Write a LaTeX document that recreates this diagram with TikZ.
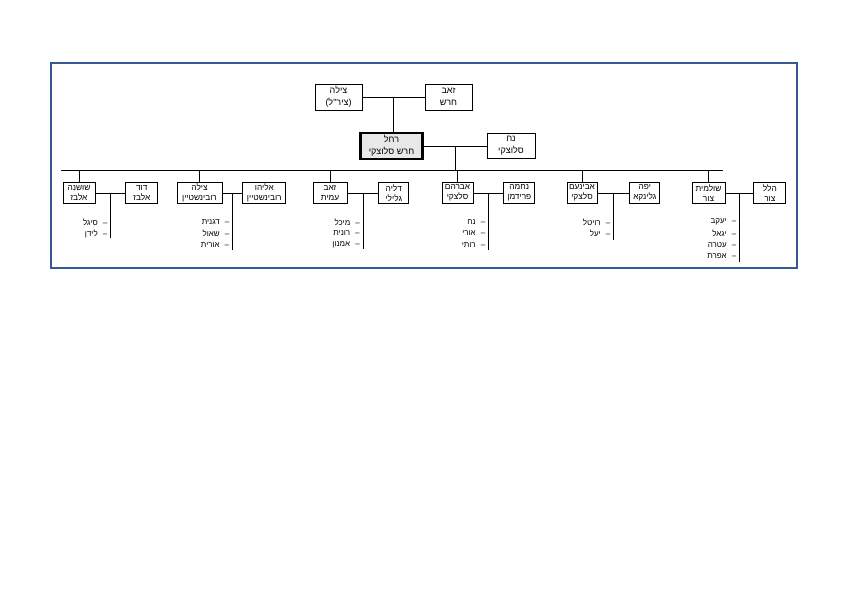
\documentclass[tikz,border=0pt]{standalone}
\usepackage{fontspec}
\setmainfont{Liberation Sans}
\newfontfamily\hebfont[Script=Hebrew]{Liberation Sans}
\TeXXeTstate=1
\usepackage{tikz}
\usetikzlibrary{positioning}
\usetikzlibrary{calc}
\definecolor{frameblue}{RGB}{56,87,150}
\tikzstyle{person} = [rectangle, draw=black, fill=white, line width=0.8pt, minimum height=20.5pt, inner sep=0pt, text centered, align=center, font=\hebfont\fontsize{8.3}{9.8}\selectfont]
\tikzstyle{parent} = [person, minimum height=26pt, font=\hebfont\fontsize{9}{12}\selectfont]
\tikzstyle{focus} = [parent, line width=2.4pt, fill=gray!18]
\tikzstyle{offspring} = [anchor=east, inner sep=0pt, font=\hebfont\fontsize{8}{9}\selectfont]
\tikzstyle{link} = [line width=0.8pt]
\newcommand{\rl}[1]{\beginR #1\endR}
\newcommand{\kid}[1]{\beginR –\hspace{5pt}#1\endR}

\begin{document}
\begin{tikzpicture}[x=1pt, y=-1pt, node distance=110pt]
        \useasboundingbox (0,0) rectangle (849,600);
        \draw [frameblue, line width=2.6pt] (51,63) rectangle (797,268);

        % grandparents and parents
        \node (tzila) [parent, minimum width=47pt] at (338.5,97) {\rl{צילה}\\\rl{(ציר"ל)}};
        \node (zeev) [parent, minimum width=47pt, right of=tzila] {\rl{זאב}\\\rl{חרש}};
        \node (rachel) [focus, minimum width=62pt, minimum height=26pt] at (391.5,146) {\rl{רחל}\\\rl{חרש סלוצקי}};
        \node (noach) [parent, minimum width=48pt, minimum height=25pt] at (511,146) {\rl{נח}\\\rl{סלוצקי}};

        % children and their spouses
        \node (shoshana) [person, minimum width=32pt] at (79,193) {\rl{שושנה}\\\rl{אלבז}};
        \node (david) [person, minimum width=32pt, right=30pt of shoshana] {\rl{דוד}\\\rl{אלבז}};
        \node (tzilaR) [person, minimum width=45pt] at (199.5,193) {\rl{צילה}\\\rl{רובינשטיין}};
        \node (eliyahu) [person, minimum width=43pt, right=20pt of tzilaR] {\rl{אליהו}\\\rl{רובינשטיין}};
        \node (zeevA) [person, minimum width=34pt] at (330,193) {\rl{זאב}\\\rl{עמית}};
        \node (dalia) [person, minimum width=30pt, right=31pt of zeevA] {\rl{דליה}\\\rl{גלילי}};
        \node (avraham) [person, minimum width=31pt] at (457.5,193) {\rl{אברהם}\\\rl{סלצקי}};
        \node (nechama) [person, minimum width=31pt, right=30pt of avraham] {\rl{נחמה}\\\rl{פרידמן}};
        \node (avinoam) [person, minimum width=30pt] at (582,193) {\rl{אבינעם}\\\rl{סלצקי}};
        \node (yafa) [person, minimum width=30pt, right=32pt of avinoam] {\rl{יפה}\\\rl{גלינקא}};
        \node (shulamit) [person, minimum width=33pt] at (708.5,193) {\rl{שולמית}\\\rl{צור}};
        \node (hillel) [person, minimum width=32pt, right=28pt of shulamit] {\rl{הלל}\\\rl{צור}};

        % couple lines
        \coordinate (topmid) at ($(tzila.east)!0.5!(zeev.west)$);
        \coordinate (parmid) at ($(rachel.east)!0.5!(noach.west)$);
        \coordinate (busL) at (61,170);
        \coordinate (busR) at (723,170);
        \draw [link] (tzila) -- (zeev);
        \draw [link] (topmid) -- (topmid |- rachel.north);
        \draw [link] (rachel) -- (noach);
        \draw [link] (parmid) -- (parmid |- busL);
        \draw [link] (busL) -- (busR);
        \draw [link] (shoshana.north |- busL) -- (shoshana.north);
        \draw [link] (tzilaR.north |- busL) -- (tzilaR.north);
        \draw [link] (zeevA.north |- busL) -- (zeevA.north);
        \draw [link] (avraham.north |- busL) -- (avraham.north);
        \draw [link] (avinoam.north |- busL) -- (avinoam.north);
        \draw [link] (shulamit.north |- busL) -- (shulamit.north);

        \draw [link] (shoshana) -- (david);
        \draw [link] (tzilaR) -- (eliyahu);
        \draw [link] (zeevA) -- (dalia);
        \draw [link] (avraham) -- (nechama);
        \draw [link] (avinoam) -- (yafa);
        \draw [link] (shulamit) -- (hillel);

        \coordinate (m1) at ($(shoshana.east)!0.5!(david.west)$);
        \coordinate (m2) at ($(tzilaR.east)!0.5!(eliyahu.west)$);
        \coordinate (m3) at ($(zeevA.east)!0.5!(dalia.west)$);
        \coordinate (m4) at ($(avraham.east)!0.5!(nechama.west)$);
        \coordinate (m5) at ($(avinoam.east)!0.5!(yafa.west)$);
        \coordinate (m6) at ($(shulamit.east)!0.5!(hillel.west)$);
        \draw [link] (m1) -- ++(0,45);
        \draw [link] (m2) -- ++(0,57);
        \draw [link] (m3) -- ++(0,56);
        \draw [link] (m4) -- ++(0,57);
        \draw [link] (m5) -- ++(0,47);
        \draw [link] (m6) -- ++(0,69);

        % grandchildren
        \node (sigal) [offspring] at ($(m1)+(-3,29)$) {\kid{סיגל}};
        \node (lidan) [offspring] at ($(m1)+(-3,40.5)$) {\kid{לידן}};
        \node (dganit) [offspring] at ($(m2)+(-3,29)$) {\kid{דגנית}};
        \node (shaul) [offspring] at ($(m2)+(-3,40.5)$) {\kid{שאול}};
        \node (orit) [offspring] at ($(m2)+(-3,52)$) {\kid{אורית}};
        \node (michal) [offspring] at ($(m3)+(-3,29)$) {\kid{מיכל}};
        \node (ronit) [offspring] at ($(m3)+(-3,40.5)$) {\kid{רונית}};
        \node (amnon) [offspring] at ($(m3)+(-3,52)$) {\kid{אמנון}};
        \node (noachS) [offspring] at ($(m4)+(-3,29)$) {\kid{נח}};
        \node (uri) [offspring] at ($(m4)+(-3,40.5)$) {\kid{אורי}};
        \node (ruti) [offspring] at ($(m4)+(-3,52)$) {\kid{רותי}};
        \node (revital) [offspring] at ($(m5)+(-3,29)$) {\kid{רויטל}};
        \node (yael) [offspring] at ($(m5)+(-3,40.5)$) {\kid{יעל}};
        \node (yaakov) [offspring] at ($(m6)+(-3,29)$) {\kid{יעקב}};
        \node (yigal) [offspring] at ($(m6)+(-3,40.5)$) {\kid{יגאל}};
        \node (atara) [offspring] at ($(m6)+(-3,52)$) {\kid{עטרה}};
        \node (efrat) [offspring] at ($(m6)+(-3,63.5)$) {\kid{אפרת}};
\end{tikzpicture}
\end{document}
